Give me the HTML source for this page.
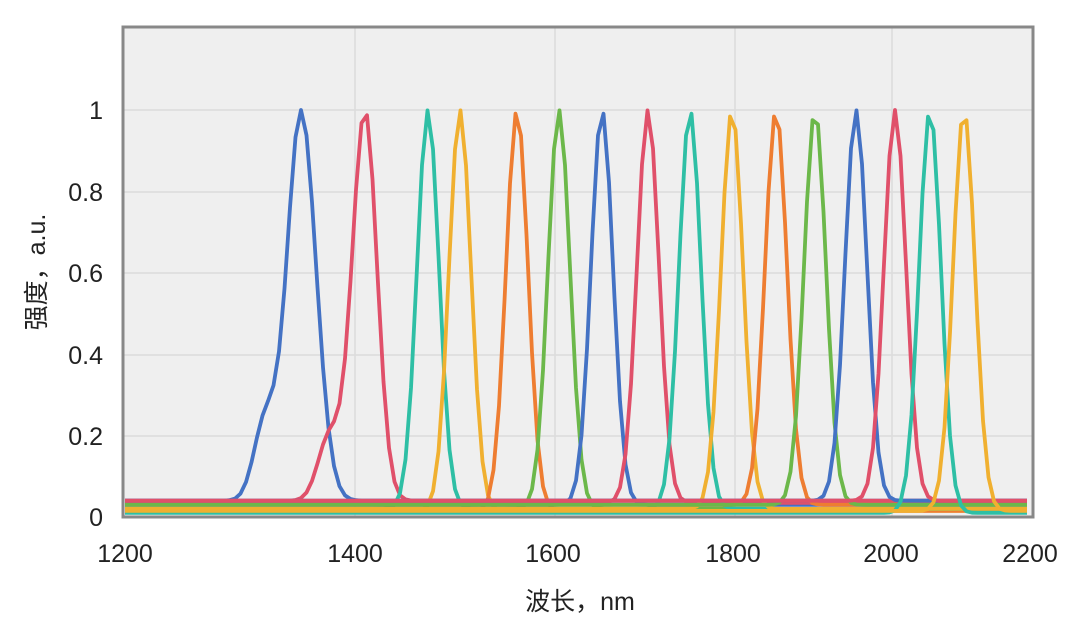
<!DOCTYPE html>
<html><head><meta charset="utf-8"><style>
body{margin:0;background:#fff;width:1080px;height:633px;overflow:hidden}
text{font-family:"Liberation Sans","Noto Sans CJK SC",sans-serif;fill:#222}
</style></head><body>
<svg id="s" width="1080" height="633" xmlns="http://www.w3.org/2000/svg">
<rect x="123" y="27" width="910" height="490" fill="#efefef"/>
<g stroke="#dcdcdc" stroke-width="1.5">
<line x1="123" x2="1033" y1="110" y2="110"/><line x1="123" x2="1033" y1="192" y2="192"/>
<line x1="123" x2="1033" y1="273" y2="273"/><line x1="123" x2="1033" y1="355" y2="355"/>
<line x1="123" x2="1033" y1="436" y2="436"/>
<line x1="355" x2="355" y1="27" y2="517"/><line x1="555" x2="555" y1="27" y2="517"/>
<line x1="735" x2="735" y1="27" y2="517"/><line x1="892" x2="892" y1="27" y2="517"/>
</g>
<g id="curves" fill="none" stroke-width="3.8" stroke-linejoin="round"></g>
<rect x="123" y="27" width="910" height="490" fill="none" stroke="#888" stroke-width="3"/>
<g font-size="25" text-anchor="end">
<text x="103" y="526">0</text><text x="103" y="445">0.2</text><text x="103" y="364">0.4</text>
<text x="103" y="282">0.6</text><text x="103" y="201">0.8</text><text x="103" y="119">1</text>
</g>
<g font-size="25" text-anchor="middle">
<text x="125" y="562">1200</text><text x="355" y="562">1400</text><text x="553" y="562">1600</text>
<text x="733" y="562">1800</text><text x="891" y="562">2000</text><text x="1030" y="562">2200</text>
<text x="580" y="610">波长，nm</text>
</g>
<text font-size="25" transform="translate(45,272) rotate(-90)" text-anchor="middle">强度，a.u.</text>
</svg>
<script>
var peaks=[[301,'#4472c4',0.04,14,15,0.2],[365,'#e0506a',0.04,13,12,0.16],[428,'#2ebfa5',0.02,11,11,0],[460,'#f0b030',0.015,11,11,0],[517,'#ee7d31',0.015,11,11,0],[559,'#6cb84a',0.02,11,11,0],[602,'#4472c4',0.03,11,11,0],[648,'#e0506a',0.035,11,11,0],[690,'#2ebfa5',0.02,11,11,0],[732,'#f0b030',0.02,11,11,0],[776,'#ee7d31',0.03,11,11,0],[815,'#6cb84a',0.03,11,11,0],[856,'#4472c4',0.04,11,11,0],[895,'#e0506a',0.04,11,11,0],[930,'#2ebfa5',0.01,11,11,0],[964,'#f0b030',0.015,11,11,0]];
var g=document.getElementById('curves'),h='';
peaks.forEach(function(p){
 var pts=[];
 for(var x=125;x<=1031;x+=5.5){
  var d=x-p[0],s=d<0?p[3]:p[4];
  var v=Math.exp(-d*d/(2*s*s));
  if(p[5]){var e=d+36;v+=p[5]*Math.exp(-e*e/250);}
  v=Math.min(v,1)*(1-p[2])+p[2];
  pts.push(x.toFixed(1)+','+(517-v*407).toFixed(1));
 }
 h+='<polyline stroke="'+p[1]+'" points="'+pts.join(' ')+'"/>';
});
g.innerHTML=h;
</script>
</body></html>
